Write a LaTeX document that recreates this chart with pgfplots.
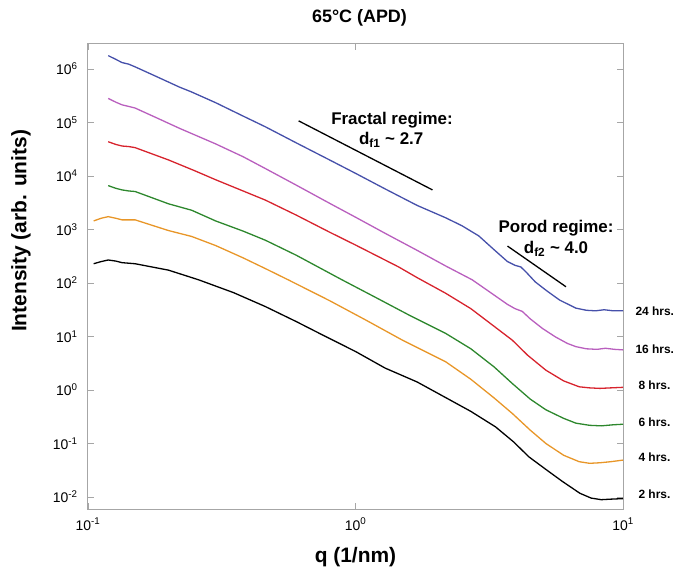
\documentclass[border=0pt]{standalone}
\usepackage{fontspec}
\setmainfont{Liberation Sans}
\usepackage{pgfplots}
\pgfplotsset{compat=1.18}
\definecolor{cblue}{RGB}{70,80,170}
\definecolor{cmag}{RGB}{185,95,190}
\definecolor{cred}{RGB}{215,35,45}
\definecolor{cgreen}{RGB}{45,135,45}
\definecolor{corange}{RGB}{232,150,40}
\begin{document}
\begin{tikzpicture}
\begin{axis}[
  scale only axis, width=535bp, height=465bp,
  xmode=log, ymode=log, log basis x=10, log basis y=10,
  xmin=0.1, xmax=10, ymin=5.97e-3, ymax=2.93e6,
  clip=false,
  tick align=inside, major tick length=6bp, minor tick length=3bp,
  axis line style={draw=gray!70, line width=1bp},
  every tick/.style={gray!70, line width=0.6bp},
  xtickten={-1,0,1}, ytickten={-2,-1,0,1,2,3,4,5,6},
  xticklabel={10\textsuperscript{\pgfmathparse{int(round(\tick))}\pgfmathresult}},
  yticklabel={10\textsuperscript{\pgfmathparse{int(round(\tick))}\pgfmathresult}},
  tick label style={font=\fontsize{14}{16}\selectfont},
  xticklabel style={anchor=base, yshift=-21bp},
  yticklabel style={xshift=-7bp},
  title={65°C (APD)},
  title style={font=\bfseries\fontsize{18}{20}\selectfont, at={(axis description cs:0.5,1)}, anchor=base, yshift=16bp, xshift=4bp},
  xlabel={q (1/nm)},
  xlabel style={font=\bfseries\fontsize{21}{24}\selectfont, at={(axis description cs:0.5,0)}, anchor=base, yshift=-53bp},
  ylabel={Intensity (arb. units)},
  ylabel style={font=\bfseries\fontsize{21}{24}\selectfont, at={(axis description cs:-0.1252,0.598)}, anchor=center},
]
% 24 hrs
\addplot[cblue, line width=1.3bp] coordinates {
(0.119,1.778e6)(0.127,1.514e6)(0.134,1.318e6)(0.142,1.230e6)(0.150,1.096e6)
(0.18,7.244e5)(0.22,4.571e5)(0.244,3.715e5)(0.30,2.344e5)(0.38,1.318e5)
(0.46,8.318e4)(0.6,4.169e4)(0.8,1.995e4)(1.0,1.122e4)(1.3,5.623e3)
(1.7,2.818e3)(2.17,1.660e3)(2.5,1.175e3)(2.89,758.6)(3.3,416.9)
(3.7,251.2)(3.95,213.8)(4.15,199.5)(4.35,158.5)(4.7,104.7)(5.2,70.79)
(5.8,47.86)(6.67,33.88)(7.3,30.90)(7.9,30.20)(8.5,31.62)(9.2,30.20)(10,30.20)};
% 16 hrs
\addplot[cmag, line width=1.3bp] coordinates {
(0.119,2.818e5)(0.127,2.399e5)(0.134,2.138e5)(0.142,1.995e5)(0.150,1.862e5)
(0.18,1.230e5)(0.22,7.762e4)(0.30,3.981e4)(0.38,2.291e4)(0.46,1.380e4)
(0.6,6.761e3)(0.8,3.090e3)(1.0,1.698e3)(1.3,831.8)(1.7,407.4)
(2.17,208.9)(2.73,114.8)(3.2,66.07)(3.7,39.81)(3.95,33.11)(4.2,29.51)
(4.5,21.38)(5.0,14.13)(5.6,9.772)(6.2,7.413)(6.67,6.457)(7.3,5.888)
(8.0,5.754)(8.6,6.026)(9.3,5.754)(10,5.623)};
% 8 hrs
\addplot[cred, line width=1.3bp] coordinates {
(0.119,4.365e4)(0.127,3.890e4)(0.134,3.631e4)(0.142,3.548e4)(0.150,3.388e4)
(0.2,1.995e4)(0.25,1.259e4)(0.3,8.511e3)(0.38,5.248e3)(0.46,3.548e3)
(0.6,1.862e3)(0.8,891.3)(1.0,512.9)(1.45,199.5)(1.7,125.9)
(2.17,64.57)(2.7,33.11)(3.2,17.38)(3.86,8.511)(4.4,4.467)(5.15,2.344)
(6.0,1.479)(6.86,1.148)(7.5,1.096)(8.2,1.072)(9.0,1.096)(10,1.122)};
% 6 hrs
\addplot[cgreen, line width=1.3bp] coordinates {
(0.119,6.607e3)(0.127,5.888e3)(0.134,5.495e3)(0.142,5.248e3)(0.150,5.129e3)
(0.2,3.020e3)(0.244,2.291e3)(0.3,1.445e3)(0.38,933.3)(0.46,631.0)
(0.6,331.1)(0.89,114.8)(1.2,52.48)(1.6,24.55)(2.17,11.48)
(2.7,5.888)(3.3,2.692)(3.86,1.318)(4.5,0.6761)(5.15,0.4266)(6.0,0.2951)
(6.67,0.2399)(7.5,0.2188)(8.3,0.2138)(9.2,0.2239)(10,0.2291)};
% 4 hrs
\addplot[corange, line width=1.3bp] coordinates {
(0.105,1.445e3)(0.112,1.622e3)(0.119,1.738e3)(0.127,1.622e3)(0.134,1.514e3)
(0.150,1.514e3)(0.2,955.0)(0.244,741.3)(0.3,501.2)(0.38,295.1)(0.46,186.2)
(0.56,114.8)(0.8,46.77)(1.1,19.95)(1.5,8.511)(2.17,3.388)
(2.7,1.585)(3.3,0.7079)(3.86,0.3631)(4.5,0.1778)(5.15,0.1)(6.0,0.06026)
(6.86,0.04571)(7.5,0.04266)(8.2,0.04365)(9.0,0.04571)(10,0.04898)};
% 2 hrs
\addplot[black, line width=1.3bp] coordinates {
(0.105,229.1)(0.112,251.2)(0.119,269.2)(0.127,257.0)(0.134,239.9)
(0.150,229.1)(0.2,173.8)(0.259,114.8)(0.35,66.07)(0.46,36.31)
(0.6,19.05)(0.773,10.0)(1.0,5.248)(1.29,2.570)(1.7,1.413)
(2.17,0.7244)(2.7,0.3981)(3.34,0.2042)(3.9,0.1072)(4.45,0.05623)
(5.2,0.03162)(5.94,0.01950)(6.9,0.01175)(7.6,0.009550)(8.3,0.008913)
(9.0,0.009120)(10,0.009333)};
% guide lines
\addplot[black, line width=1.3bp] coordinates {(0.613,1.072e5)(1.94,5.495e3)};
\addplot[black, line width=1.3bp] coordinates {(3.70,489.8)(6.12,85.11)};
% annotations
\node[font=\bfseries\fontsize{17}{20}\selectfont] at (axis cs:1.369,1.11e5) {Fractal regime:};
\node[font=\bfseries\fontsize{17}{20}\selectfont] at (axis cs:1.36,4.7e4) {d\textsubscript{f1} \textasciitilde{} 2.7};
\node[font=\bfseries\fontsize{17}{20}\selectfont] at (axis cs:5.62,1.07e3) {Porod regime:};
\node[font=\bfseries\fontsize{17}{20}\selectfont] at (axis cs:5.62,434) {d\textsubscript{f2} \textasciitilde{} 4.0};
\node[anchor=west, xshift=9bp, font=\bfseries\fontsize{12}{14}\selectfont] at (axis cs:10,30) {24 hrs.};
\node[anchor=west, xshift=9bp, font=\bfseries\fontsize{12}{14}\selectfont] at (axis cs:10,5.84) {16 hrs.};
\node[anchor=west, xshift=12bp, font=\bfseries\fontsize{12}{14}\selectfont] at (axis cs:10,1.21) {8 hrs.};
\node[anchor=west, xshift=12bp, font=\bfseries\fontsize{12}{14}\selectfont] at (axis cs:10,0.247) {6 hrs.};
\node[anchor=west, xshift=12bp, font=\bfseries\fontsize{12}{14}\selectfont] at (axis cs:10,0.0547) {4 hrs.};
\node[anchor=west, xshift=12bp, font=\bfseries\fontsize{12}{14}\selectfont] at (axis cs:10,0.01138) {2 hrs.};
\end{axis}
\pgfresetboundingbox
\path[use as bounding box] ([shift={(-88bp,-63bp)}]current axis.south west) rectangle ([shift={(588bp,509bp)}]current axis.south west);
\end{tikzpicture}
\end{document}
